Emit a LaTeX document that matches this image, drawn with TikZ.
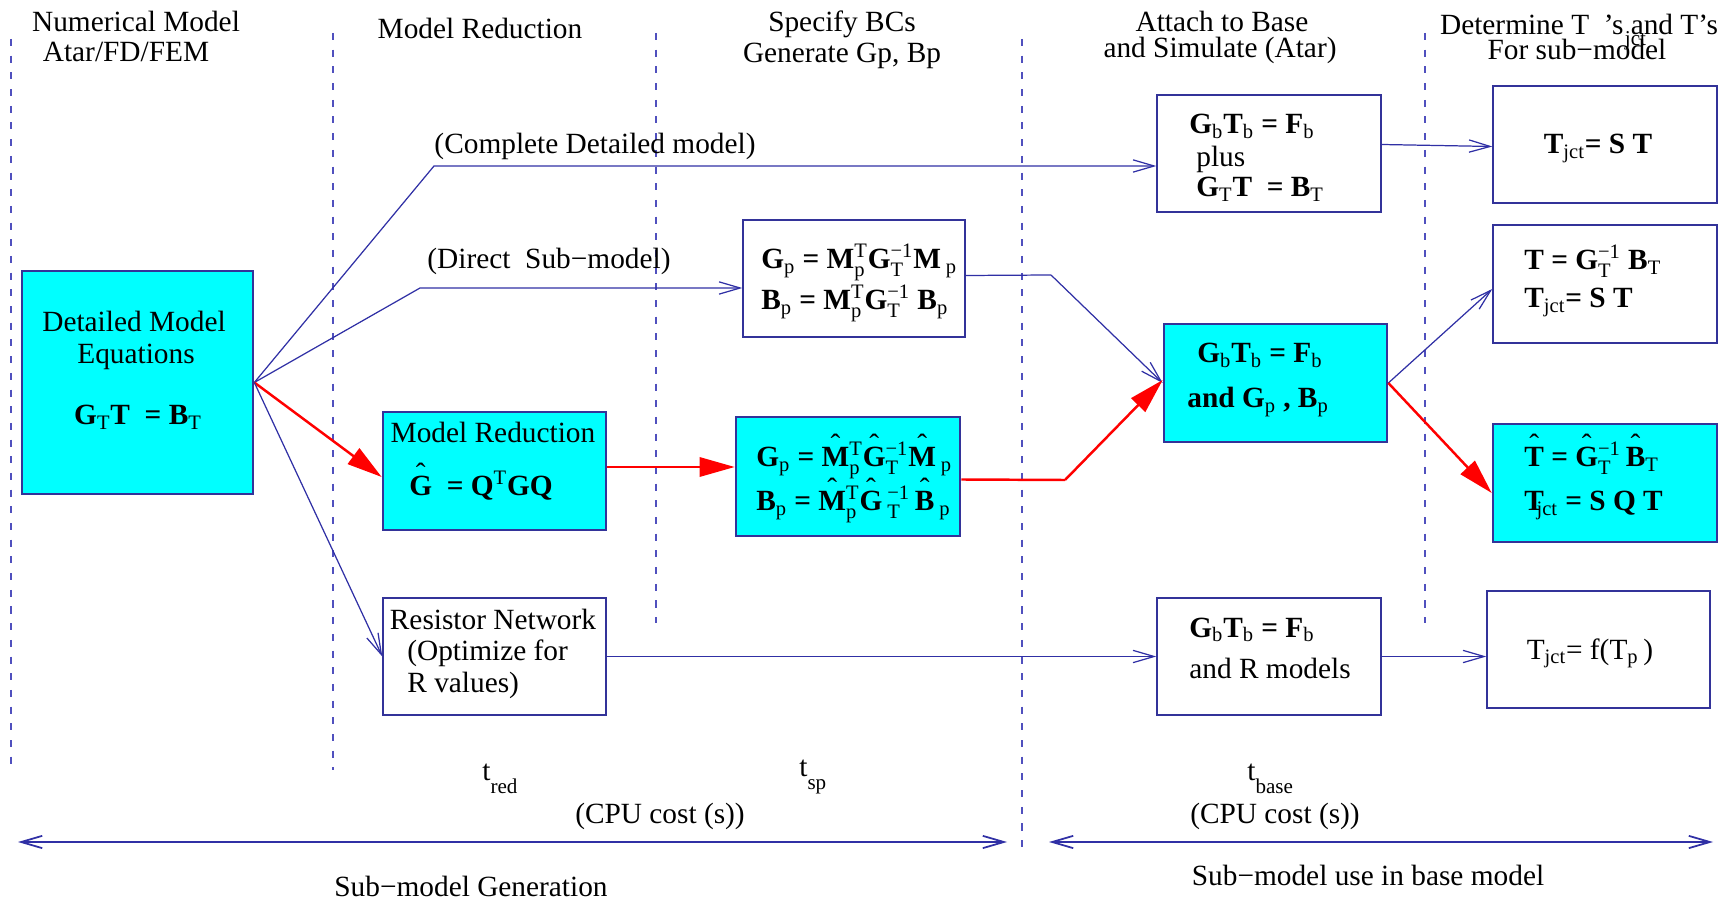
\documentclass[tikz,border=0pt]{standalone}
\usepackage{amsmath}
\usepackage{fontspec}
\setmainfont{Liberation Serif}
\usetikzlibrary{arrows.meta,fit,calc}

% upright sub/superscripts inside (bold) formulas
\newcommand{\sbs}[1]{$_{\textnormal{#1}}$}
\newcommand{\sps}[1]{$^{\textnormal{#1}}$}
\newcommand{\sbsp}[2]{$^{\textnormal{#2}}_{\textnormal{#1}}$}
% circumflex set well above a letter
\newcommand{\hatx}[1]{{\ooalign{#1\cr\hidewidth\raisebox{0.42em}{\normalfont\symbol{"02C6}}\hidewidth\cr}}}
% low subscript used for the CPU time labels
\newcommand{\lowsub}[1]{\raisebox{-0.45em}{\fontsize{12}{12}\selectfont #1}}

\definecolor{lc}{RGB}{48,48,165}
\definecolor{bc}{RGB}{51,51,153}
\definecolor{dc}{RGB}{80,80,190}
\definecolor{cy}{RGB}{0,255,255}
\definecolor{rd}{RGB}{255,0,0}

\tikzset{
  txt/.style={inner sep=0pt, font=\fontsize{16.7}{19}\selectfont},
  whitebox/.style={draw=bc, line width=0.8pt, fill=white, inner sep=0pt},
  cyanbox/.style={draw=bc, line width=1.5pt, fill=cy, inner sep=0pt},
  conn/.style={draw=lc, line width=0.7pt, -{Straight Barb[length=12pt,width=7pt]}},
  plain/.style={draw=lc, line width=0.7pt},
  rconn/.style={draw=rd, line width=1.4pt, -{Triangle[length=20pt,width=11pt]}},
  rplain/.style={draw=rd, line width=1.4pt},
  sep/.style={draw=dc, line width=0.8pt, dash pattern=on 4pt off 5.5pt},
  span/.style={draw=lc, line width=1pt, {Straight Barb[length=12pt,width=7pt]}-{Straight Barb[length=12pt,width=7pt]}},
}

\begin{document}
\begin{tikzpicture}[x=0.02cm,y=-0.02cm]
\useasboundingbox (0,0) rectangle (1730,901);

% column separators
\draw[sep] (11,39) -- (11,770);
\draw[sep] (333,33) -- (333,770);
\draw[sep] (656,33) -- (656,623);
\draw[sep] (1022,39) -- (1022,850);
\draw[sep] (1425,33) -- (1425,623);

% column headings
\node[txt, anchor=base] (h1a) at (136,32) {Numerical Model};
\node[txt, anchor=base] (h1b) at (126,62) {Atar/FD/FEM};
\node[txt, anchor=base] (h2) at (480,39) {Model Reduction};
\node[txt, anchor=base] (h3a) at (842,32) {Specify BCs};
\node[txt, anchor=base] (h3b) at (842,63) {Generate Gp, Bp};
\node[txt, anchor=base] (h4a) at (1222,32) {Attach to Base};
\node[txt, anchor=base] (h4b) at (1220,58) {and Simulate (Atar)};
\node[txt, anchor=base] (h5a) at (1579,35) {Determine T\ \ 's \rlap{\kern-0.2em\raisebox{-0.35em}{\fontsize{12}{12}\selectfont jct}}and T's};
\node[txt, anchor=base] (h5b) at (1577,60) {For sub−model};

% boxes
\node[cyanbox, fit={(22,271) (253,494)}] (det) {};
\node[cyanbox, fit={(383,412) (606,530)}] (mr) {};
\node[whitebox, fit={(383,598) (606,715)}] (res) {};
\node[whitebox, fit={(743,220) (965,337)}] (gp) {};
\node[cyanbox, fit={(736,417) (960,536)}] (gph) {};
\node[whitebox, fit={(1157,95) (1381,212)}] (gbt) {};
\node[cyanbox, fit={(1164,324) (1387,442)}] (gbm) {};
\node[whitebox, fit={(1157,598) (1381,715)}] (gbb) {};
\node[whitebox, fit={(1493,86) (1717,203)}] (tr1) {};
\node[whitebox, fit={(1493,225) (1717,343)}] (tr2) {};
\node[cyanbox, fit={(1493,424) (1717,542)}] (tr3) {};
\node[whitebox, fit={(1487,591) (1710,708)}] (tr4) {};

% box contents
\node[txt, anchor=base] (det1) at (134,332) {Detailed Model};
\node[txt, anchor=base] (det2) at (136,364) {Equations};
\node[txt, anchor=base] (det3) at (138,425) {\textbf{G}\sbs{T}\textbf{T\ \ = B}\sbs{T}};

\node[txt, anchor=base] (mr1) at (493,443) {Model Reduction};
\node[txt, anchor=base] (mr2) at (481,496) {\hatx{\textbf{G}}\textbf{\ \ = Q}\sps{T}\textbf{GQ}};

\node[txt, anchor=base] (res1) at (493,629) {Resistor Network};
\node[txt, anchor=base west] (res2) at (407,660) {(Optimize for};
\node[txt, anchor=base west] (res3) at (407,692) {R values)};

\node[txt, anchor=base west] (gp1) at (761,269) {\textbf{G}\sbs{p}\textbf{ = M}\sbsp{p}{T}\textbf{G}\sbsp{T}{−1}\textbf{M}\,\sbs{p}};
\node[txt, anchor=base west] (gp2) at (761,310) {\textbf{B}\sbs{p}\textbf{ = M}\sbsp{p}{T}\textbf{G}\sbsp{T}{−1}\textbf{ B}\sbs{p}};

\node[txt, anchor=base west] (gph1) at (756,467) {\textbf{G}\sbs{p}\textbf{ = }\hatx{\textbf{M}}\sbsp{p}{T}\hatx{\textbf{G}}\sbsp{T}{−1}\hatx{\textbf{M}}\,\sbs{p}};
\node[txt, anchor=base west] (gph2) at (756,511) {\textbf{B}\sbs{p}\textbf{ = }\hatx{\textbf{M}}\sbsp{p}{T}\hatx{\textbf{G}}\,\sbsp{T}{−1}\,\hatx{\textbf{B}}\,\sbs{p}};

\node[txt, anchor=base west] (gbt1) at (1189,134) {\textbf{G}\sbs{b}\textbf{T}\sbs{b}\textbf{ = F}\sbs{b}};
\node[txt, anchor=base west] (gbt2) at (1196,167) {plus};
\node[txt, anchor=base west] (gbt3) at (1196,197) {\textbf{G}\sbs{T}\textbf{T\ \ = B}\sbs{T}};

\node[txt, anchor=base west] (gbm1) at (1197,363) {\textbf{G}\sbs{b}\textbf{T}\sbs{b}\textbf{ = F}\sbs{b}};
\node[txt, anchor=base west] (gbm2) at (1187,408) {\textbf{and G}\sbs{p}\textbf{ , B}\sbs{p}};

\node[txt, anchor=base west] (gbb1) at (1189,637) {\textbf{G}\sbs{b}\textbf{T}\sbs{b}\textbf{ = F}\sbs{b}};
\node[txt, anchor=base west] (gbb2) at (1189,678) {and R models};

\node[txt, anchor=base] (tr1a) at (1598,154) {\textbf{T}\sbs{jct}\textbf{= S T}};

\node[txt, anchor=base west] (tr2a) at (1524,270) {\textbf{T = G}\sbsp{T}{−1}\textbf{ B}\sbs{T}};
\node[txt, anchor=base west] (tr2b) at (1524,308) {\textbf{T}\sbs{jct}\textbf{= S T}};

\node[txt, anchor=base west] (tr3a) at (1524,467) {\hatx{\textbf{T}}\textbf{ = }\hatx{\textbf{G}}\sbsp{T}{−1}\,\hatx{\textbf{B}}\sbs{T}};
\node[txt, anchor=base west] (tr3b) at (1524,511) {\textbf{T}\kern-0.25em\sbs{jct}\textbf{ = S Q T}};

\node[txt, anchor=base] (tr4a) at (1590,659) {T\sbs{jct}= f(T\sbs{p}\,)};

% route labels
\node[txt, anchor=base] (lc) at (595,154) {(Complete Detailed model)};
\node[txt, anchor=base] (ld) at (549,269) {(Direct\ \ Sub−model)};

% connectors
\coordinate (b1) at (434,166);
\coordinate (b2) at (420,288);
\coordinate (k1) at (1051,275);
\coordinate (k2) at (1065,480);

\draw[conn] (det.east) -- (b1) -- (b1 -| gbt.west);
\draw[conn] (det.east) -- (b2) -- (b2 -| gp.west);
\draw[rconn] (det.east) -- ($(mr.west)+(0,6)$);
\draw[conn] (det.east) -- (res.west);

\draw[rconn] ($(mr.east)+(0,-4)$) -- ($(mr.east -| gph.west)+(0,-4)$);
\draw[conn] (res.east) -- (res.east -| gbb.west);

\draw[plain] ($(gp.east)+(0,-3)$) -- (k1);
\draw[conn] (k1) -- (gbm.west);
\draw[rplain] ($(gph.east)+(0,3)$) -- (k2);
\draw[rconn] (k2) -- ($(gbm.west)+(0,-3)$);

\draw[conn] (tr1.west -| gbt.east) -- ($(tr1.west)+(0,2)$);
\draw[conn] (gbm.east) -- ($(tr2.west)+(0,5)$);
\draw[rconn] (gbm.east) -- ($(tr3.west)+(0,10)$);
\draw[conn] (gbb.east) -- ($(gbb.east -| tr4.west)$);

% CPU time labels
\node[txt, anchor=base west] (tred) at (482,780) {t\lowsub{red}};
\node[txt, anchor=base west] (tsp) at (799,776) {t\lowsub{sp}};
\node[txt, anchor=base west] (tbase) at (1247,780) {t\lowsub{base}};
\node[txt, anchor=base] (cpu1) at (660,823) {(CPU cost (s))};
\node[txt, anchor=base] (cpu2) at (1275,823) {(CPU cost (s))};

% phase spans
\coordinate (s1) at (18,842);
\coordinate (s2) at (1007,842);
\coordinate (s3) at (1049,842);
\coordinate (s4) at (1713,842);
\draw[span] (s1) -- (s2);
\draw[span] (s3) -- (s4);
\node[txt, anchor=base] (gen) at (471,896) {Sub−model Generation};
\node[txt, anchor=base] (use) at (1368,885) {Sub−model use in base model};
\end{tikzpicture}
\end{document}
